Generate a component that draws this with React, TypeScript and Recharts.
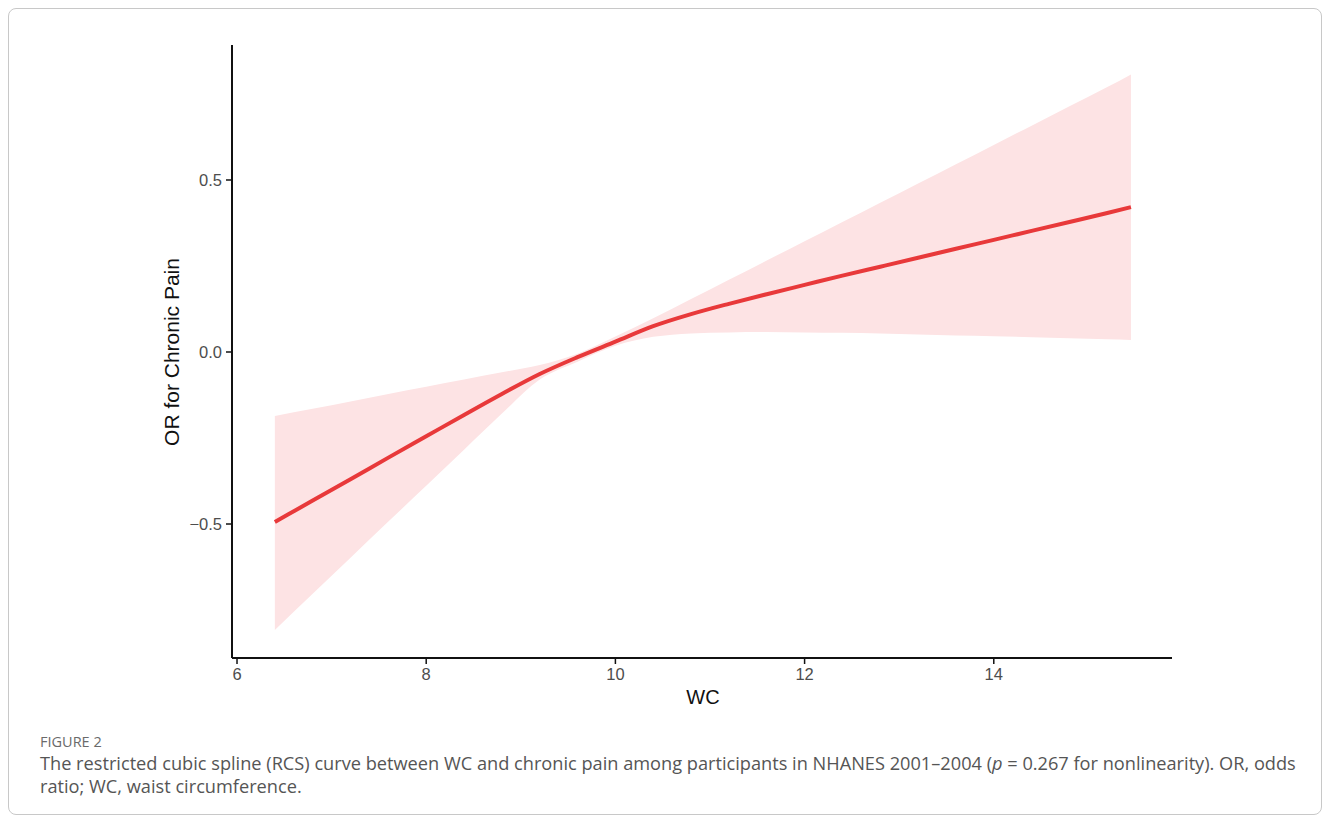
import React from "react";
import { ComposedChart, Area, Line, XAxis, YAxis } from "recharts";

// restricted cubic spline estimate for WC vs chronic pain
const wc = [6.4, 6.8, 7.2, 7.6, 8.0, 8.4, 8.8, 9.2, 9.6, 10.0, 10.4, 10.8, 11.2, 11.6, 12.0, 12.4, 12.8, 13.2, 13.6, 14.0, 14.4, 14.8, 15.2, 15.45];
const orFit = [-0.494, -0.432, -0.37, -0.307, -0.245, -0.183, -0.122, -0.064, -0.015, 0.03, 0.075, 0.11, 0.14, 0.168, 0.195, 0.222, 0.248, 0.274, 0.3, 0.326, 0.352, 0.378, 0.404, 0.421];
const ciUpper = [-0.186, -0.165, -0.144, -0.122, -0.101, -0.08, -0.059, -0.038, -0.005, 0.045, 0.098, 0.154, 0.21, 0.266, 0.322, 0.378, 0.434, 0.49, 0.546, 0.602, 0.658, 0.714, 0.77, 0.807];
const ciLower = [-0.808, -0.703, -0.598, -0.493, -0.389, -0.284, -0.179, -0.08, -0.028, 0.018, 0.044, 0.054, 0.057, 0.058, 0.057, 0.056, 0.054, 0.051, 0.048, 0.046, 0.043, 0.04, 0.037, 0.035];

const xTicks = [6, 8, 10, 12, 14];
const yTicks = [-0.5, 0, 0.5];

const data = wc.map((x, i) => ({ x, fit: orFit[i], band: [ciLower[i], ciUpper[i]] }));

const fmtY = (v: number) => v.toFixed(1).replace("-", "\u2212");

const tickStyle = { fontSize: 16.5, fill: "#4d4d4d", fontFamily: "'Liberation Sans', Arial, sans-serif" };

export default function App() {
  return (
    <div style={{ position: "absolute", left: 0, top: 0, width: 1330, height: 821, background: "#fff" }}>
      <div style={{ position: "absolute", left: 8, top: 8, width: 1312, height: 805, border: "1px solid #c8c8c8", borderRadius: 8 }} />
      <div style={{ position: "absolute", left: 0, top: 0 }}>
        <ComposedChart width={1330} height={720} data={data}
          margin={{ top: 45, right: 158, bottom: 32, left: 152 }}>
          <XAxis dataKey="x" type="number" domain={[5.947, 15.884]} ticks={xTicks} allowDataOverflow
            height={30} tickSize={6} tickMargin={4} tick={tickStyle}
            axisLine={{ stroke: "#111", strokeWidth: 2 }} tickLine={{ stroke: "#111", strokeWidth: 1.5 }} />
          <YAxis type="number" domain={[-0.8895, 0.8924]} ticks={yTicks} allowDataOverflow
            width={80} tickSize={6} tickMargin={4} tick={tickStyle} tickFormatter={fmtY}
            axisLine={{ stroke: "#111", strokeWidth: 2 }} tickLine={{ stroke: "#111", strokeWidth: 1.5 }} />
          <Area dataKey="band" type="monotone" stroke="none" fill="#fde3e4" fillOpacity={1} isAnimationActive={false} />
          <Line dataKey="fit" type="monotone" stroke="#e8393a" strokeWidth={4} dot={false} isAnimationActive={false} />
        </ComposedChart>
      </div>
      <div style={{ position: "absolute", left: 703, top: 697, transform: "translate(-50%, -50%)", fontFamily: "'Liberation Sans', Arial, sans-serif", fontSize: 20, color: "#111" }}>WC</div>
      <div style={{ position: "absolute", left: 172, top: 352, transform: "translate(-50%, -50%) rotate(-90deg)", whiteSpace: "nowrap", fontFamily: "'Liberation Sans', Arial, sans-serif", fontSize: 21, color: "#111" }}>OR for Chronic Pain</div>
      <div style={{ position: "absolute", left: 40, top: 732, fontFamily: "'Open Sans', sans-serif", fontSize: 14.5, color: "#6a6a6a" }}>FIGURE 2</div>
      <div style={{ position: "absolute", left: 40, top: 752, fontFamily: "'Open Sans', sans-serif", fontSize: 18.2, lineHeight: "23px", color: "#555", whiteSpace: "nowrap" }}>
        The restricted cubic spline (RCS) curve between WC and chronic pain among participants in NHANES 2001–2004 (<i>p</i> = 0.267 for nonlinearity). OR, odds<br />
        ratio; WC, waist circumference.
      </div>
    </div>
  );
}
